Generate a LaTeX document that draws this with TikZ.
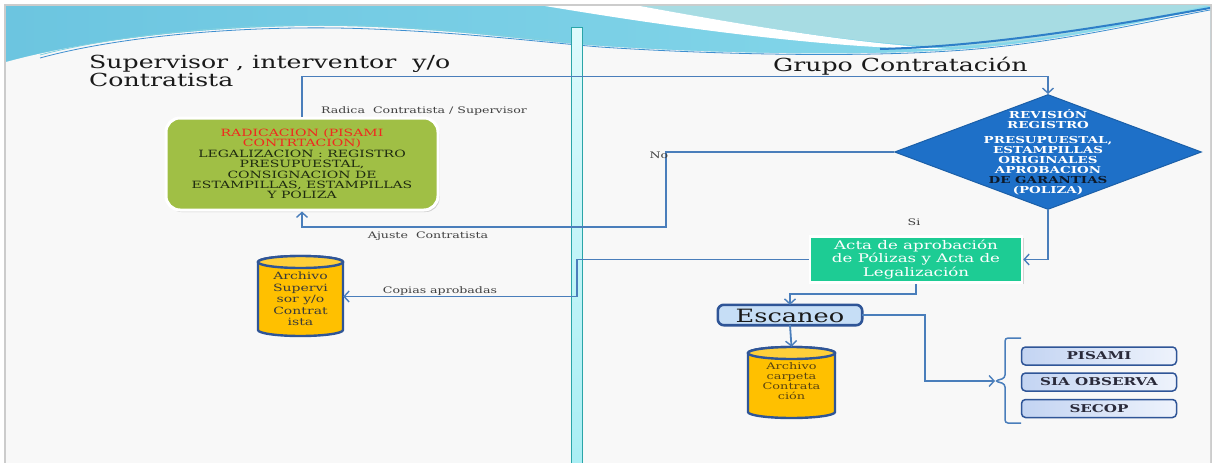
\documentclass[tikz,border=0pt]{standalone}
\usepackage{fontspec}
\setmainfont{DejaVu Serif}[FakeStretch=1.4]
\usetikzlibrary{arrows.meta,shapes.geometric,shadows,calc}
\definecolor{conncol}{HTML}{4A7EBB}
\definecolor{darkblue}{HTML}{2F5597}
\definecolor{olive}{HTML}{A0BF45}
\definecolor{mint}{HTML}{1DCC94}
\definecolor{amber}{HTML}{FFC000}
\definecolor{amberlt}{HTML}{FFCF3A}
\definecolor{diamblue}{HTML}{1E70C8}
\definecolor{diamedge}{HTML}{1B5FA8}
\definecolor{lbl}{HTML}{404040}
\definecolor{slidebg}{HTML}{F8F8F8}
\definecolor{cyanA}{HTML}{6CC5E0}
\definecolor{cyanB}{HTML}{8ADBEC}
\definecolor{tealC}{HTML}{A7DCE3}
\definecolor{lineA}{HTML}{3E8FD0}
\definecolor{lineB}{HTML}{7FD0E0}
\definecolor{lineC}{HTML}{2E7FC8}
\definecolor{titlecol}{HTML}{1A1A1A}
\definecolor{barA}{HTML}{DDFAFC}
\definecolor{barB}{HTML}{A9EEF4}
\definecolor{barEdge}{HTML}{2AA5A8}
\definecolor{radtext}{HTML}{1E2A10}
\definecolor{redtext}{HTML}{F0281E}
\definecolor{diamdark}{HTML}{0E1A2A}
\definecolor{escfill}{HTML}{C6DEF6}
\definecolor{cyltext}{HTML}{3A3A3A}
\definecolor{cyltextB}{HTML}{5A4410}
\definecolor{sysL}{HTML}{C3D4F2}
\definecolor{sysR}{HTML}{EEF3FC}
\definecolor{systext}{HTML}{2A2A3A}
\tikzset{
  conn/.style={draw=conncol,line width=1.8pt},
  arr/.style={conn,-{Straight Barb[length=5pt,width=11pt,line width=1.4pt]}},
  lab/.style={text=lbl,font=\fontsize{9}{9}\selectfont,inner sep=1pt},
  cylbody/.style={fill=amber,draw=darkblue,line width=2.4pt},
  sysbox/.style={draw=darkblue,line width=1.5pt,rounded corners=4pt,left color=sysL,right color=sysR,minimum width=155pt,minimum height=18pt,inner sep=0pt,font=\fontsize{10.8}{11}\selectfont\bfseries,text=systext},
}
\begin{document}
\begin{tikzpicture}[x=1pt,y=-1pt]
\useasboundingbox (0,0) rectangle (1216,463);
% slide background and frame
\fill[white] (0,0) rectangle (1216,463);
\fill[slidebg,draw=gray!40,line width=1.2pt] (5,5) rectangle (1211,470);
% top decoration
\shade[left color=cyanA,right color=cyanB] (6,6) rectangle (1210,62);
\fill[tealC] (640,6) .. controls (760,28) and (860,44) .. (950,47) .. controls (1050,42) and (1150,18) .. (1210,5) -- cycle;
\fill[white] (545,6) .. controls (700,32) and (850,50) .. (950,49) .. controls (860,44) and (760,28) .. (640,6) -- cycle;
\fill[slidebg] (6,62) .. controls (100,36) and (250,22) .. (372,27) .. controls (470,31) and (540,42) .. (600,46) .. controls (720,54) and (860,56) .. (950,50) .. controls (1050,44) and (1150,20) .. (1210,8) -- (1210,463) -- (6,463) -- cycle;
\draw[lineA,line width=0.8pt] (40,58) .. controls (120,36) and (250,24) .. (372,29) .. controls (470,33) and (540,42) .. (600,47) .. controls (720,55) and (860,57) .. (950,51) .. controls (1050,45) and (1150,21) .. (1210,10);
\draw[lineB,line width=0.8pt] (40,55) .. controls (120,34) and (250,21) .. (372,26) .. controls (470,30) and (540,40) .. (600,44);
\draw[lineC,line width=2pt] (880,49) .. controls (1000,46) and (1130,22) .. (1210,8);
% titles
\node[anchor=north west,align=left,inner sep=0pt,font=\fontsize{18}{17}\selectfont,text=titlecol] (t1) at (89,55) {Supervisor , interventor\ \ y/o\\Contratista};
\node[anchor=north west,inner sep=0pt,font=\fontsize{18}{17}\selectfont,text=titlecol] (t2) at (773,57) {Grupo Contratación};
% lane bar
\shade[top color=barA,bottom color=barB,draw=barEdge,line width=1pt] (571.5,27) rectangle (582.5,466);
% radicacion
\node[draw=white,line width=3pt,fill=olive,rounded corners=14pt,minimum width=272pt,minimum height=92pt,
  drop shadow={opacity=0.35,shadow xshift=1.5pt,shadow yshift=-2pt},align=center,
  font=\fontsize{10}{10.4}\selectfont,text=radtext,inner sep=0pt] (radic) at (302,164)
  {\textcolor{redtext}{RADICACION (PISAMI}\\\textcolor{redtext}{CONTRTACION)}\\LEGALIZACION : REGISTRO\\PRESUPUESTAL,\\CONSIGNACION DE\\ESTAMPILLAS, ESTAMPILLAS\\Y POLIZA};
% diamond
\node[diamond,fill=diamblue,draw=diamedge,line width=1pt,minimum width=307pt,minimum height=115pt,inner sep=0pt,aspect=2.67] (diam) at (1048,152) {};
\node[align=center,text=white,font=\fontsize{9.6}{10}\selectfont\bfseries,inner sep=0pt] (diamtxt) at (1048,152.5)
  {REVISIÓN\\REGISTRO\\[5pt]PRESUPUESTAL,\\ESTAMPILLAS\\ORIGINALES\\APROBACION\\\textcolor{diamdark}{DE GARANTIAS}\\(POLIZA)};
% acta
\node[draw=white,line width=2.5pt,fill=mint,minimum width=212pt,minimum height=46pt,inner sep=0pt,
  drop shadow={opacity=0.3,shadow xshift=1.5pt,shadow yshift=-1.5pt},align=center,text=white,
  font=\fontsize{11.9}{13.3}\selectfont] (acta) at (916,259.5)
  {Acta de aprobación\\de Pólizas y Acta de\\Legalización};
% escaneo
\node[minimum width=144pt,minimum height=20pt,inner sep=0pt] (esc) at (790,315) {};
\fill[escfill,draw=darkblue,line width=2.6pt,rounded corners=6pt] (esc.south west) -- (esc.north west) -- (esc.north east) -- (esc.south east) -- cycle;
\node[inner sep=0pt,font=\fontsize{18.3}{19}\selectfont,text=titlecol] (esctxt) at (790,315.5) {Escaneo};
% cylinders
\node[minimum width=85pt,minimum height=79pt,inner sep=0pt] (arch1) at (300.5,296.5) {};
\path[cylbody] (258,262) -- (258,330) arc[start angle=180,end angle=360,x radius=42.5pt,y radius=6pt] -- (343,262) arc[start angle=0,end angle=180,x radius=42.5pt,y radius=6pt] -- cycle;
\path[fill=amberlt,draw=darkblue,line width=2.4pt] (300.5,262) ellipse[x radius=42.5pt,y radius=6pt];
\node[align=center,inner sep=0pt,font=\fontsize{10}{11.5}\selectfont,text=cyltext] (arch1txt) at (300.5,299) {Archivo\\Supervi\\sor y/o\\Contrat\\ista};
\node[minimum width=87pt,minimum height=71pt,inner sep=0pt] (arch2) at (791.5,382.5) {};
\path[cylbody] (748,353) -- (748,412) arc[start angle=180,end angle=360,x radius=43.5pt,y radius=6pt] -- (835,353) arc[start angle=0,end angle=180,x radius=43.5pt,y radius=6pt] -- cycle;
\path[fill=amberlt,draw=darkblue,line width=2.4pt] (791.5,353) ellipse[x radius=43.5pt,y radius=6pt];
\node[align=center,inner sep=0pt,font=\fontsize{9.2}{10.2}\selectfont,text=cyltextB] (arch2txt) at (791.5,381) {Archivo\\carpeta\\Contrata\\ción};
% system boxes
\node[sysbox] (pisami) at (1099,356) {PISAMI};
\node[sysbox] (sia) at (1099,382) {SIA OBSERVA};
\node[sysbox] (secop) at (1099,408.5) {SECOP};
\coordinate (br) at (995,381);
\draw[conncol,line width=1.5pt,rounded corners=3pt] (1021,338) -- (1005,338) -- (1005,378) -- (995,381) -- (1005,384) -- (1005,423) -- (1021,423);
% connectors
\draw[arr] (radic.north) -- ++(0,-40) -| (diam.north);
\draw[arr] (diam.west) -- (666,152) -- (666,227) -| (radic.south);
\draw[arr] (diam.south) |- (acta.east);
\draw[arr] (acta.west) -- (577,259.5) |- (arch1.east);
\draw[arr] (acta.south) -- ++(0,10.5) -| (esc.north);
\draw[arr] (esc.south) -- (arch2.north);
\draw[arr] (esc.east) -- (925,315) |- (br);
% labels
\node[lab] (l1) at (424,111) {Radica\ \ Contratista / Supervisor};
\node[lab] (l2) at (428,236.5) {Ajuste\ \ Contratista};
\node[lab] (l3) at (440,291) {Copias aprobadas};
\node[lab] (l4) at (659,155) {No};
\node[lab] (l5) at (914,222) {Si};
\end{tikzpicture}
\end{document}
